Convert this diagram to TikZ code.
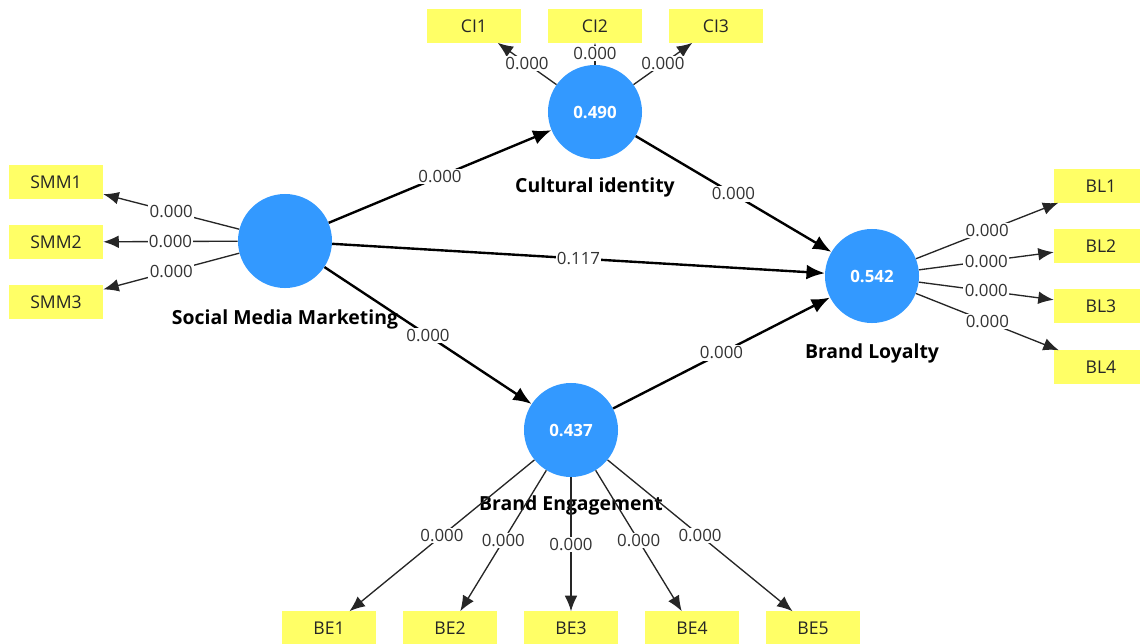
\documentclass[tikz,border=0pt]{standalone}
\usepackage{fontspec}
\setmainfont{Open Sans}
\usetikzlibrary{arrows.meta}
\definecolor{lvblue}{RGB}{51,153,255}
\definecolor{indyellow}{RGB}{255,255,102}

\begin{document}
\fontsize{12}{14}\selectfont
\begin{tikzpicture}[x=0.025cm,y=-0.025cm,
  latent/.style={circle,fill=lvblue,minimum size=2.35cm,inner sep=0pt,text=white,font=\bfseries},
  indicator/.style={rectangle,fill=indyellow,minimum width=2.35cm,minimum height=0.825cm,inner sep=0pt,text=black!85,font=\fontsize{12.5}{15}\selectfont},
  vname/.style={font=\fontsize{13.8}{16}\selectfont\bfseries},
  loading/.style={-{Latex[length=11pt,width=9pt]},line width=0.95pt,black!85},
  structural/.style={-{Latex[length=13pt,width=10.5pt]},line width=1.7pt,black},
  coef/.style={fill=white,inner sep=1pt,text=black!80}]
  \useasboundingbox (0,0) rectangle (1140,644);
  % latent variables
  \node[latent] (SMM) at (285,241) {};
  \node[latent] (CI) at (595,112) {0.490};
  \node[latent] (BL) at (872,276) {0.542};
  \node[latent] (BE) at (571,430) {0.437};
  \node[vname] (SMMname) at (285,319) {Social Media Marketing};
  \node[vname] (CIname) at (595,187) {Cultural identity};
  \node[vname] (BLname) at (872,353) {Brand Loyalty};
  \node[vname] (BEname) at (571,505) {Brand Engagement};
  % indicators
  \foreach \i/\y in {1/182,2/242,3/302} \node[indicator] (SMM\i) at (56,\y) {SMM\i};
  \foreach \i/\x in {1/474,2/595,3/716} \node[indicator] (CI\i) at (\x,26) {CI\i};
  \foreach \i/\y in {1/186,2/246,3/306,4/367} \node[indicator] (BL\i) at (1101,\y) {BL\i};
  \foreach \i/\x in {1/329,2/450,3/571,4/692,5/813} \node[indicator] (BE\i) at (\x,628) {BE\i};
  % outer loadings
  \foreach \v/\n in {SMM/3,CI/3,BL/4,BE/5}
    \foreach \i in {1,...,\n}
      \draw[loading] (\v) -- node[coef]{0.000} (\v\i);
  % inner model
  \draw[structural] (SMM) -- node[coef]{0.000} (CI);
  \draw[structural] (SMM) -- node[coef]{0.117} (BL);
  \draw[structural] (SMM) -- node[coef]{0.000} (BE);
  \draw[structural] (CI) -- node[coef]{0.000} (BL);
  \draw[structural] (BE) -- node[coef]{0.000} (BL);
\end{tikzpicture}
\end{document}
